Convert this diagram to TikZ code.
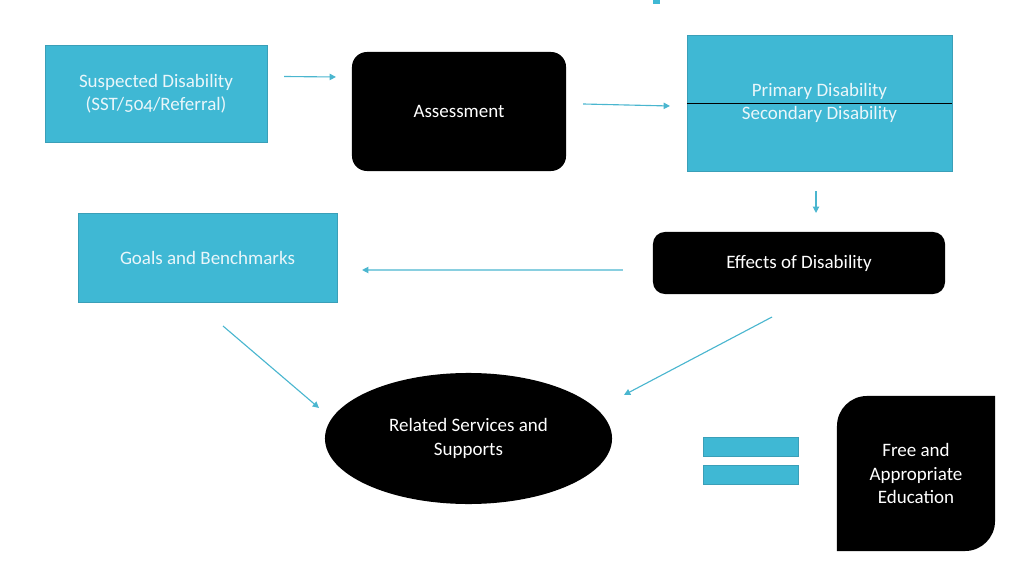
\documentclass[tikz,border=0pt]{standalone}
\usepackage{fontspec}
\setmainfont{Carlito}[Numbers=OldStyle]
\usepackage{tikz}
\usetikzlibrary{positioning,arrows.meta,shapes.geometric,calc}
\definecolor{palCyan}{HTML}{3FB8D4}
\definecolor{palCyanDk}{HTML}{3A9FB8}
\definecolor{palArrow}{HTML}{4AB6CF}
\definecolor{palText}{HTML}{EAF6FA}
\tikzset{
  stdnode/.style={font=\fontsize{13.5pt}{16.5pt}\selectfont, align=center,
                  inner sep=0pt, outer sep=0pt},
  cyanbox/.style={stdnode, draw=palCyanDk, fill=palCyan, text=palText,
                  line width=0.6pt},
  darkbox/.style={stdnode, fill=black, text=white, rounded corners=0.375cm},
  barbox/.style={draw=palCyanDk, fill=palCyan, line width=0.6pt,
                 minimum width=2.375cm, minimum height=0.475cm, inner sep=0pt},
  flowarrow/.style={-{Triangle[length=4.5pt,width=4.5pt]}, palArrow,
                    line width=0.8pt},
}

\begin{document}
\begin{tikzpicture}[x=0.025cm, y=-0.025cm]
\useasboundingbox (0,0) rectangle (1024,576);
%% Top row
\node[cyanbox, minimum width=5.55cm, minimum height=2.425cm] (suspected) at (156,93.5)
  {Suspected Disability\\(SST/504/Referral)};
\node[darkbox, minimum width=5.35cm, minimum height=2.975cm] (assess) at (459,111.5) {Assessment};
\node[cyanbox, minimum width=6.625cm, minimum height=3.4cm] (primary) at (819.5,103)
  {Primary Disability\\Secondary Disability};
\draw[black, line width=0.6pt] (primary.west) -- (primary.east);
%% Middle row
\node[darkbox, rounded corners=0.3cm, minimum width=7.3cm, minimum height=1.55cm] (effects) at (799,263)
  {Effects of Disability};
\node[cyanbox, minimum width=6.475cm, minimum height=2.225cm] (goals) at (207.5,257.5)
  {Goals and Benchmarks};
%% Bottom row
\node[stdnode, ellipse, fill=black, text=white, minimum width=7.175cm, minimum height=3.275cm]
  (related) at (468.5,438.5) {Related Services and\\Supports};
\node[barbox] (barA) at (750.5,446.5) {};
\node[barbox, below=0.225cm of barA] (barB) {};
\node[stdnode, text=white, minimum width=3.95cm, minimum height=3.875cm] (fape) at (916,473.5) {};
\fill[black] (fape.north east) [rounded corners=0.75cm] -- (fape.south east)
  [sharp corners] -- (fape.south west) [rounded corners=0.75cm] -- (fape.north west)
  [sharp corners] -- cycle;
\node[stdnode, text=white] at (fape.center) {Free and\\Appropriate\\Education};
\fill[palCyan] (653,0) rectangle (660,4);
%% Arrows
\draw[flowarrow] ($(suspected.east)+(17,-17)$) -- ($(assess.west)+(-16,-34.5)$);
\draw[flowarrow] ($(assess.east)+(17,-7.5)$) -- ($(primary.west)+(-17,3)$);
\draw[flowarrow] ($(primary.south)+(-3.5,20)$) -- ($(effects.north)+(17,-19)$);
\draw[flowarrow] ($(effects.west)+(-30,7)$) -- ($(goals.east)+(25,12.5)$);
\draw[flowarrow] ($(goals.south)+(15.5,24)$) -- ($(related.center)+(-149.5,-30.5)$);
\draw[flowarrow] ($(effects.south)+(-27,23)$) -- ($(related.center)+(155.5,-43.5)$);
\end{tikzpicture}
\end{document}
